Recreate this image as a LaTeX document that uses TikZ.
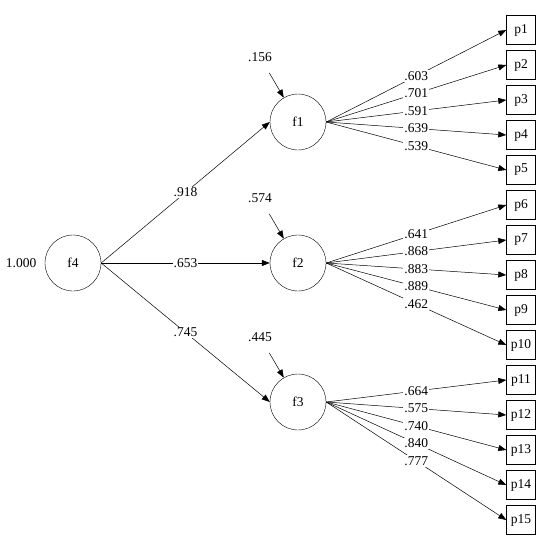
\documentclass[tikz,border=0pt]{standalone}
\usepackage{fontspec}
\setmainfont{Liberation Serif}
\usepackage{tikz}
\usetikzlibrary{arrows.meta, positioning}

\tikzset{
	factor/.style = {draw, circle, minimum size = 56pt, inner sep = 0pt},
	item/.style = {draw, rectangle, minimum size = 29pt, inner sep = 0pt},
	load/.style = {midway, fill = white, inner sep = 1pt},
	path/.style = {-{Triangle[length = 8pt, width = 6pt]}, line width = 0.5pt}
}

\begin{document}
\begin{tikzpicture}[x = 1pt, y = -1pt, font = \fontsize{13.5}{16}\selectfont]
			\useasboundingbox (0, 0) rectangle (545, 549);
			\node[factor] (f4) at (73, 263) {f4};
			\node[factor] (f1) at (298, 122) {f1};
			\node[factor] (f2) at (298, 263) {f2};
			\node[factor] (f3) at (298, 402) {f3};
			\node[left = 5pt of f4] (v4) {1.000};
			% residuals
			\node (e1) at (260, 57) {.156};
			\node (e2) at (260, 198) {.574};
			\node (e3) at (260, 337) {.445};
			\draw[path, shorten <= 9pt] (e1) -- (f1);
			\draw[path, shorten <= 9pt] (e2) -- (f2);
			\draw[path, shorten <= 9pt] (e3) -- (f3);
			% second order paths
			\draw[path] (f4.east) -- (f1.west) node[load] {.918};
			\draw[path] (f4.east) -- (f2.west) node[load] {.653};
			\draw[path] (f4.east) -- (f3.west) node[load] {.745};
			% items
			\foreach \i/\f/\l in {1/f1/.603, 2/f1/.701, 3/f1/.591, 4/f1/.639, 5/f1/.539,
				6/f2/.641, 7/f2/.868, 8/f2/.883, 9/f2/.889, 10/f2/.462,
				11/f3/.664, 12/f3/.575, 13/f3/.740, 14/f3/.840, 15/f3/.777} {
				\node[item] (p\i) at (521, 30 + 35 * \i - 35) {p\i};
				\draw[path] (\f.east) -- (p\i.west) node[load] {\l};
			}
		\end{tikzpicture}
\end{document}
